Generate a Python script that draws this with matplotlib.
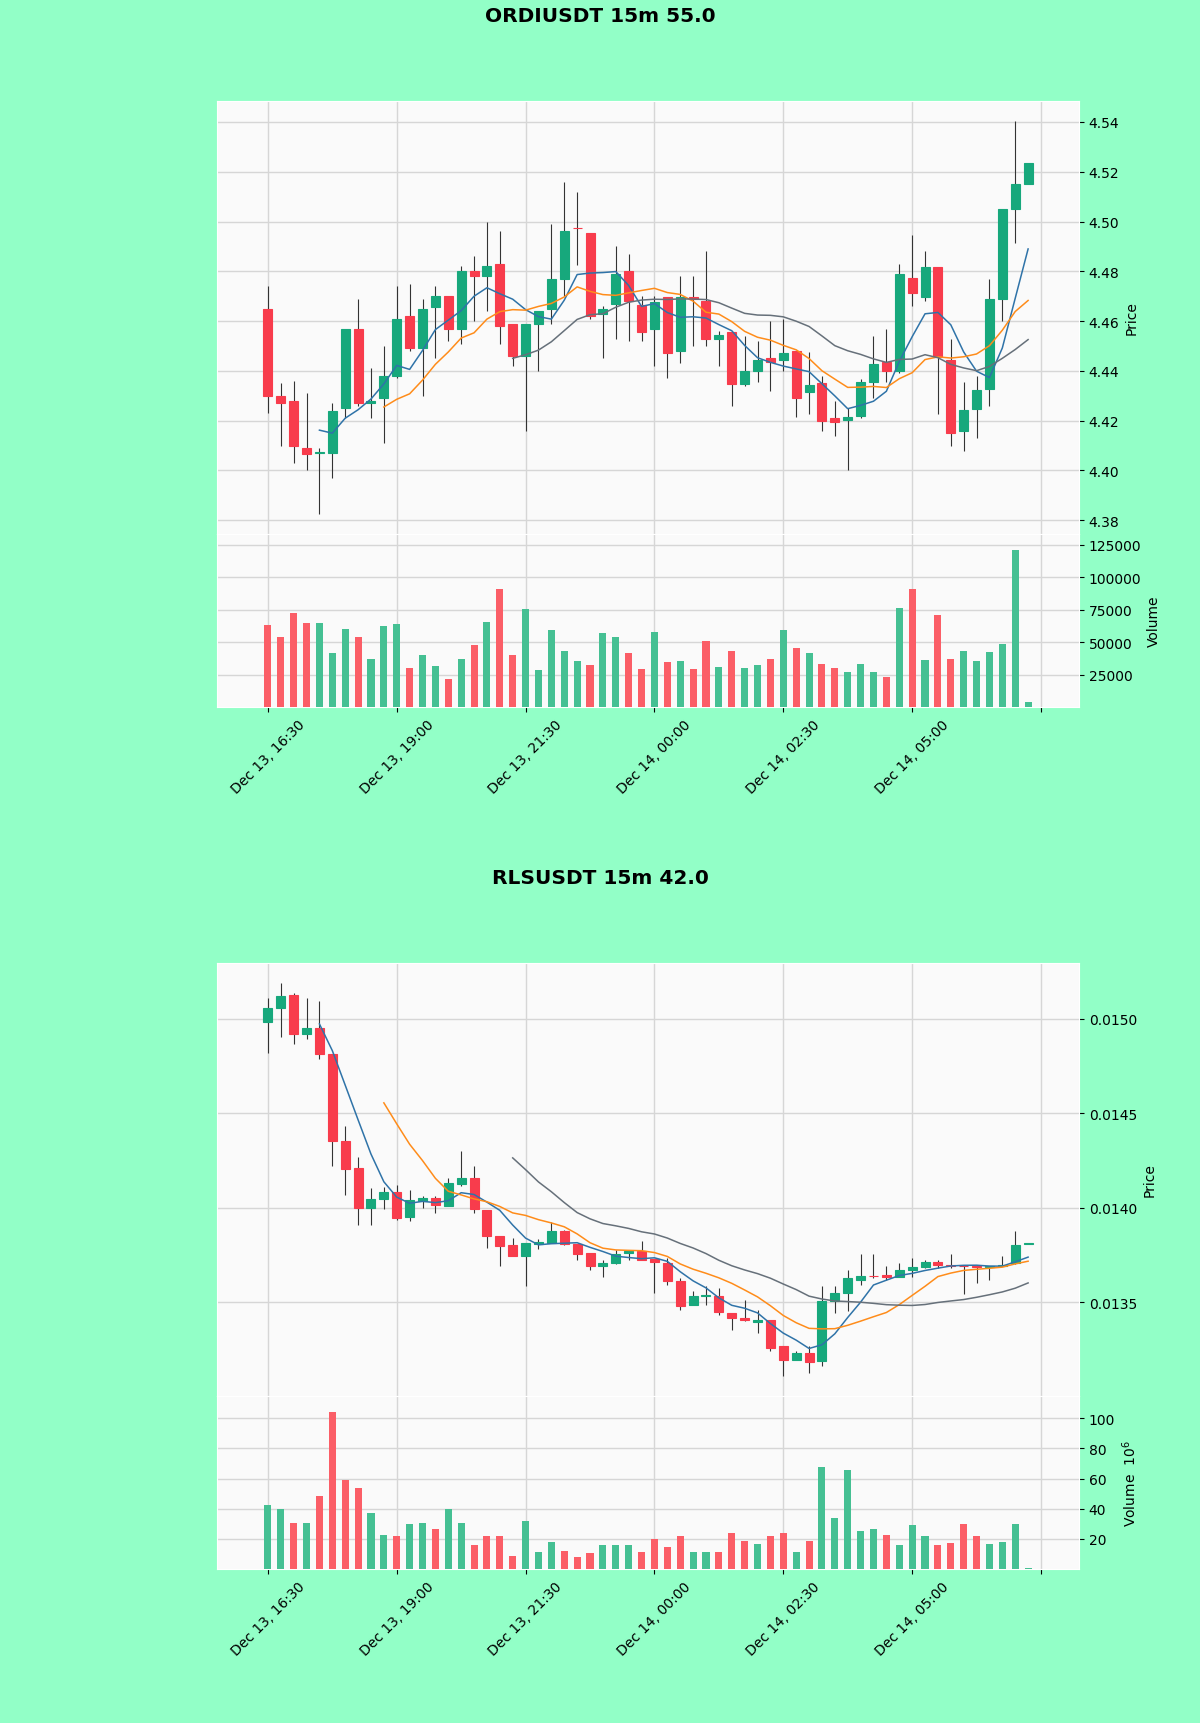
import numpy as np
import pandas as pd
import matplotlib
matplotlib.use("Agg")
import matplotlib.pyplot as plt
from matplotlib.ticker import FuncFormatter, FixedLocator

# ---- ORDIUSDT 15m ----
ordi_open = [4.465, 4.430, 4.428, 4.409, 4.407, 4.407, 4.425, 4.457, 4.427, 4.429,
             4.438, 4.462, 4.449, 4.4655, 4.470, 4.457, 4.480, 4.478, 4.483, 4.459,
             4.446, 4.459, 4.465, 4.477, 4.4975, 4.4955, 4.463, 4.467, 4.480, 4.4665,
             4.457, 4.4695, 4.448, 4.4695, 4.468, 4.453, 4.4555, 4.4347, 4.440, 4.445,
             4.4442, 4.448, 4.4315, 4.435, 4.4209, 4.4202, 4.4220, 4.4357, 4.4435, 4.440,
             4.4775, 4.4697, 4.4818, 4.4443, 4.416, 4.4246, 4.4327, 4.469, 4.505, 4.515]
ordi_high = [4.474, 4.435, 4.436, 4.431, 4.409, 4.427, 4.457, 4.469, 4.441, 4.450,
             4.474, 4.475, 4.469, 4.474, 4.470, 4.482, 4.486, 4.500, 4.496, 4.459,
             4.459, 4.464, 4.499, 4.516, 4.512, 4.4955, 4.466, 4.490, 4.487, 4.470,
             4.470, 4.4695, 4.478, 4.478, 4.488, 4.456, 4.4555, 4.454, 4.452, 4.460,
             4.461, 4.448, 4.4475, 4.438, 4.428, 4.4253, 4.4368, 4.454, 4.457, 4.483,
             4.4946, 4.488, 4.4818, 4.453, 4.4354, 4.438, 4.477, 4.505, 4.5405, 4.5234]
ordi_low = [4.423, 4.410, 4.403, 4.400, 4.3824, 4.397, 4.421, 4.426, 4.421, 4.411,
            4.437, 4.448, 4.430, 4.445, 4.452, 4.451, 4.460, 4.464, 4.451, 4.442,
            4.416, 4.440, 4.459, 4.470, 4.4825, 4.461, 4.445, 4.453, 4.452, 4.452,
            4.442, 4.437, 4.443, 4.450, 4.450, 4.442, 4.426, 4.434, 4.4355, 4.432,
            4.440, 4.4213, 4.4226, 4.416, 4.414, 4.4004, 4.421, 4.429, 4.4355, 4.439,
            4.466, 4.468, 4.4226, 4.410, 4.408, 4.413, 4.426, 4.460, 4.4915, 4.515]
ordi_close = [4.430, 4.427, 4.410, 4.4065, 4.4075, 4.424, 4.457, 4.427, 4.428, 4.438,
              4.461, 4.449, 4.465, 4.470, 4.457, 4.480, 4.478, 4.482, 4.458, 4.446,
              4.459, 4.464, 4.477, 4.496, 4.4975, 4.462, 4.465, 4.479, 4.468, 4.4555,
              4.4677, 4.447, 4.4695, 4.469, 4.453, 4.4545, 4.4347, 4.440, 4.4443, 4.4437,
              4.447, 4.429, 4.4345, 4.420, 4.4193, 4.4213, 4.4357, 4.4428, 4.440, 4.479,
              4.4711, 4.4818, 4.4455, 4.4152, 4.4244, 4.4325, 4.469, 4.505, 4.515, 4.5234]
ordi_volume = [63300, 53600, 72000, 64900, 64400, 41300, 59700, 54100, 36700, 62300,
               64100, 29700, 40000, 31300, 21500, 36700, 47700, 65100, 90500, 40000,
               75100, 28200, 59200, 42800, 35100, 32300, 56700, 53600, 41500, 29000,
               57500, 34500, 35700, 29300, 50800, 30600, 43000, 29900, 32400, 37000,
               59600, 45500, 41400, 33200, 29900, 26800, 33200, 26800, 23200, 76000,
               90900, 36300, 70900, 37000, 43500, 35200, 42200, 48600, 121100, 3700]

# ---- RLSUSDT 15m ----
rls_open = [0.014984, 0.015055, 0.015125, 0.014917, 0.014952, 0.014816, 0.014352, 0.014208, 0.014000, 0.014047,
            0.014082, 0.013950, 0.014035, 0.014052, 0.014008, 0.014128, 0.014158, 0.013990, 0.013853, 0.013802,
            0.013743, 0.013809, 0.013814, 0.013879, 0.013809, 0.013759, 0.013690, 0.013708, 0.013759, 0.013773,
            0.013731, 0.013708, 0.013611, 0.013487, 0.013531, 0.013535, 0.013443, 0.013417, 0.013394, 0.013404,
            0.013267, 0.013196, 0.013231, 0.013187, 0.013505, 0.013549, 0.013620, 0.013637, 0.013643, 0.013632,
            0.013673, 0.013685, 0.013713, 0.013699, 0.013692, 0.013694, 0.013688, 0.013690, 0.013708, 0.013810]
rls_high = [0.015111, 0.015191, 0.015138, 0.015111, 0.015094, 0.014816, 0.014432, 0.014268, 0.014105, 0.014109,
            0.014118, 0.014096, 0.014060, 0.014060, 0.014158, 0.014299, 0.014220, 0.013990, 0.013853, 0.013840,
            0.013812, 0.013832, 0.013925, 0.013884, 0.013809, 0.013759, 0.013722, 0.013779, 0.013779, 0.013823,
            0.013731, 0.013735, 0.013629, 0.013558, 0.013584, 0.013575, 0.013443, 0.013514, 0.013461, 0.013404,
            0.013267, 0.013240, 0.013267, 0.013584, 0.013584, 0.013672, 0.013756, 0.013756, 0.013690, 0.013708,
            0.013734, 0.013722, 0.013722, 0.013756, 0.013699, 0.013699, 0.013694, 0.013743, 0.013876, 0.013816]
rls_low = [0.014820, 0.014905, 0.014868, 0.014891, 0.014788, 0.014220, 0.014070, 0.013911, 0.013911, 0.013996,
           0.013937, 0.013929, 0.014000, 0.013973, 0.014008, 0.014114, 0.013973, 0.013787, 0.013690, 0.013743,
           0.013588, 0.013782, 0.013814, 0.013805, 0.013726, 0.013673, 0.013632, 0.013703, 0.013726, 0.013726,
           0.013549, 0.013590, 0.013461, 0.013484, 0.013487, 0.013434, 0.013355, 0.013400, 0.013337, 0.013240,
           0.013108, 0.013196, 0.013126, 0.013161, 0.013443, 0.013452, 0.013593, 0.013628, 0.013620, 0.013632,
           0.013632, 0.013680, 0.013680, 0.013682, 0.013544, 0.013602, 0.013620, 0.013690, 0.013703, 0.013810]
rls_close = [0.015058, 0.015120, 0.014917, 0.014952, 0.014816, 0.014352, 0.014206, 0.014000, 0.014047, 0.014082,
             0.013946, 0.014043, 0.014052, 0.014013, 0.014132, 0.014158, 0.013996, 0.013849, 0.013796, 0.013743,
             0.013812, 0.013819, 0.013879, 0.013809, 0.013756, 0.013690, 0.013708, 0.013756, 0.013773, 0.013726,
             0.013713, 0.013614, 0.013482, 0.013531, 0.013540, 0.013449, 0.013417, 0.013404, 0.013408, 0.013258,
             0.013196, 0.013231, 0.013184, 0.013505, 0.013549, 0.013628, 0.013637, 0.013637, 0.013632, 0.013673,
             0.013685, 0.013713, 0.013699, 0.013690, 0.013690, 0.013688, 0.013690, 0.013697, 0.013805, 0.013814]
rls_volume = [42.2, 40.0, 30.7, 30.7, 48.4, 104.4, 59.1, 54.0, 37.3, 22.9,
              22.2, 29.6, 30.7, 26.7, 40.0, 30.7, 15.6, 21.8, 22.2, 8.9,
              31.8, 11.3, 18.0, 11.8, 7.8, 10.7, 16.0, 15.6, 15.6, 11.6,
              19.6, 14.9, 22.2, 11.6, 11.6, 11.6, 24.0, 18.4, 16.9, 21.8,
              23.6, 11.6, 18.4, 68.0, 34.0, 65.8, 25.1, 26.7, 22.9, 15.6,
              28.9, 22.2, 16.2, 17.3, 30.0, 22.2, 16.9, 18.0, 30.0, 0.5]
rls_volume = [v * 1e6 for v in rls_volume]

start_time = "2023-12-13 16:30"
mav_periods = [5, 10, 20]
mav_colors = ["#2f73a8", "#ff8c1a", "#66707a"]

up_color = "#17a87c"
down_color = "#f83c4c"
vol_up = "#45c093"
vol_down = "#fb5e67"
wick_color = "#333333"
bg = "#92ffc7"

W, H = 1200.0, 1724.0


def draw_chart(top_off, title, o, h, l, c, v, price_fmt, yticks, vol_ticks, vol_scale):
    o, h, l, c, v = map(np.array, (o, h, l, c, v))
    n = len(c)
    x = np.arange(n)
    times = pd.date_range(start_time, periods=n, freq="15min")

    left = 217 / W
    width = 862 / W
    axp = fig.add_axes([left, 1 - (535 + top_off) / H, width, 433 / H])
    axv = fig.add_axes([left, 1 - (708 + top_off) / H, width, 173 / H], sharex=axp)
    fig.text(0.5, 1 - (16.5 + top_off) / H, title, ha="center", va="center",
             fontsize=14.5, fontweight="bold")

    for ax in (axp, axv):
        ax.set_facecolor("#fafafa")
        ax.grid(True, color="#d6d6d6", linewidth=1.0)
        ax.set_axisbelow(True)
        for s in ax.spines.values():
            s.set_color("#ffffff")
        ax.yaxis.tick_right()
        ax.yaxis.set_label_position("right")
        ax.tick_params(axis="y", labelsize=10)

    # candles
    up = c > o
    colors = np.where(up, up_color, down_color)
    axp.vlines(x, l, h, color=wick_color, linewidth=0.8, zorder=2)
    axp.bar(x, np.abs(c - o), bottom=np.minimum(o, c), width=0.7,
            color=colors, edgecolor=colors, linewidth=0.8, zorder=3)

    # moving averages
    cs = pd.Series(c)
    for p, col in zip(mav_periods, mav_colors):
        axp.plot(x, cs.rolling(p).mean(), color=col, linewidth=1.1, zorder=4)

    rng = h.max() - l.min()
    axp.set_ylim(l.min() - 0.05 * rng, h.max() + 0.05 * rng)
    axp.set_xlim(-3.95, n + 2.95)
    axp.yaxis.set_major_locator(FixedLocator(yticks))
    axp.yaxis.set_major_formatter(FuncFormatter(lambda y, pos: price_fmt % y))
    axp.set_ylabel("Price", fontsize=10)
    axp.tick_params(axis="x", labelbottom=False, length=0)

    # volume
    vcol = np.where(c >= o, vol_up, vol_down)
    axv.bar(x, v, width=0.55, color=vcol, zorder=3)
    axv.set_ylim(0, v.max() * 1.1)
    axv.yaxis.set_major_locator(FixedLocator(vol_ticks))
    if vol_scale > 1:
        axv.yaxis.set_major_formatter(FuncFormatter(lambda y, pos: "%d" % round(y / vol_scale)))
        axv.set_ylabel("Volume  $10^{6}$", fontsize=10)
    else:
        axv.yaxis.set_major_formatter(FuncFormatter(lambda y, pos: "%d" % y))
        axv.set_ylabel("Volume", fontsize=10)

    xt = list(range(0, n + 1, 10))
    axv.set_xticks(xt)
    labels = [times[i].strftime("%b %d, %H:%M") if i < n else "" for i in xt]
    axv.set_xticklabels(labels, rotation=45, ha="center", fontsize=10)


fig = plt.figure(figsize=(12, 17.24), dpi=100)
fig.patch.set_facecolor(bg)

draw_chart(0, "ORDIUSDT 15m 55.0", ordi_open, ordi_high, ordi_low, ordi_close, ordi_volume,
           "%.2f", [4.38, 4.40, 4.42, 4.44, 4.46, 4.48, 4.50, 4.52, 4.54],
           [25000, 50000, 75000, 100000, 125000], 1)
draw_chart(862, "RLSUSDT 15m 42.0", rls_open, rls_high, rls_low, rls_close, rls_volume,
           "%.4f", [0.0135, 0.0140, 0.0145, 0.0150],
           [20e6, 40e6, 60e6, 80e6, 100e6], 1e6)

fig.savefig("out.png", dpi=100, facecolor=fig.get_facecolor())
